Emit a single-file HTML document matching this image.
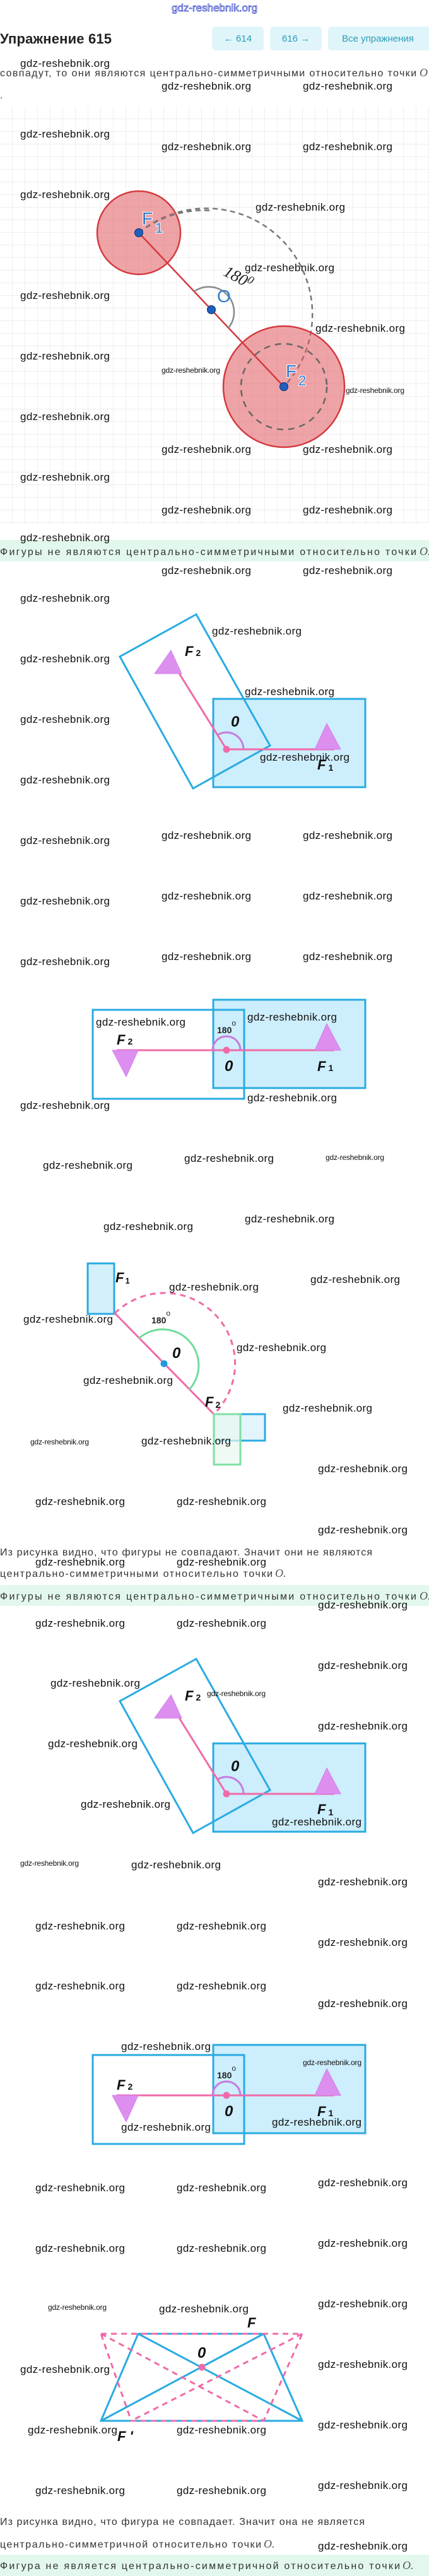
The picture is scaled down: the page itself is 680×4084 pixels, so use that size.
<!DOCTYPE html>
<html><head><meta charset="utf-8"><style>
html,body{margin:0;padding:0;background:#fff;}
svg{display:block;}
.wm{font-family:"Liberation Sans",sans-serif;font-size:17px;fill:#111;}
.ws{font-family:"Liberation Sans",sans-serif;font-size:12px;fill:#111;}
.tx{font-family:"Liberation Sans",sans-serif;font-size:16px;fill:#333;}
.oi{font-family:"Liberation Serif",serif;font-style:italic;font-size:18px;fill:#555;}
.lb{font-family:"Liberation Sans",sans-serif;font-style:italic;font-weight:bold;fill:#111;}
.bl{font-family:"Liberation Sans",sans-serif;fill:#2d7bd0;stroke:#fff;stroke-width:2px;paint-order:stroke;}
</style></head><body>
<svg width="680" height="4084" viewBox="0 0 680 4084" xmlns="http://www.w3.org/2000/svg">
<defs>
<pattern id="grid" x="0" y="169" width="20" height="20" patternUnits="userSpaceOnUse">
<path d="M20 0V20M0 20H20" fill="none" stroke="#e4e4e4" stroke-width="1.2"/>
</pattern>
</defs>

<!-- header -->
<text x="340" y="18" text-anchor="middle" font-family="Liberation Sans,sans-serif" font-size="17" fill="#fff" stroke="#3344cc" stroke-width="0.8">gdz-reshebnik.org</text>
<text x="0" y="69" font-family="Liberation Sans,sans-serif" font-weight="bold" font-size="22" fill="#222" textLength="177">Упражнение 615</text>
<rect x="336" y="42" width="82" height="38" rx="6" fill="#e0f5fa"/>
<rect x="428" y="42" width="82" height="38" rx="6" fill="#e0f5fa"/>
<rect x="520" y="42" width="166" height="38" rx="6" fill="#e0f5fa"/>
<text x="377" y="66" text-anchor="middle" font-family="Liberation Sans,DejaVu Sans,sans-serif" font-size="15" fill="#2a9bb8">←  614</text>
<text x="469" y="66" text-anchor="middle" font-family="Liberation Sans,DejaVu Sans,sans-serif" font-size="15" fill="#2a9bb8">616  →</text>
<text x="599" y="66" text-anchor="middle" font-family="Liberation Sans,sans-serif" font-size="15" fill="#2a9bb8">Все упражнения</text>

<text class="tx" x="0" y="121" textLength="660">совпадут, то они являются центрально-симметричными относительно точки</text>
<text class="oi" x="665" y="121">O</text>
<text class="tx" x="0" y="156">.</text>

<!-- section 1 grid -->
<rect x="0" y="169" width="680" height="661" fill="url(#grid)"/>
<path d="M220 369 A168 168 0 0 1 450 613" fill="none" stroke="#777" stroke-width="2.5" stroke-dasharray="8 6"/>
<circle cx="220" cy="369" r="66" fill="#e05a5f" fill-opacity="0.55" stroke="#d43a40" stroke-width="2.5"/>
<circle cx="450" cy="613" r="96" fill="#e05a5f" fill-opacity="0.55" stroke="#d43a40" stroke-width="2.5"/>
<circle cx="450" cy="613" r="68" fill="none" stroke="#666" stroke-width="2.5" stroke-dasharray="10 8"/>
<path d="M220 369 A168 168 0 0 1 337 334" fill="none" stroke="#777" stroke-width="2.5" stroke-dasharray="8 6"/>
<line x1="220" y1="369" x2="450" y2="613" stroke="#d43a40" stroke-width="2.5"/>
<path d="M308 462 A40 40 0 0 1 362 520" fill="none" stroke="#888" stroke-width="2.5"/>
<circle cx="220" cy="369" r="6.5" fill="#1f5fc0" stroke="#0c2f6a" stroke-width="1"/>
<circle cx="335" cy="491" r="6.5" fill="#1f5fc0" stroke="#0c2f6a" stroke-width="1"/>
<circle cx="450" cy="613" r="6.5" fill="#1f5fc0" stroke="#0c2f6a" stroke-width="1"/>
<text class="bl" x="225" y="356" font-size="28">F</text>
<text class="bl" x="246" y="369" font-size="22">1</text>
<text class="bl" x="453" y="598" font-size="28">F</text>
<text class="bl" x="473" y="611" font-size="22">2</text>
<text x="344" y="479" font-family="Liberation Sans,sans-serif" font-size="28" fill="#2d7bd0">O</text>
<text x="352" y="452" transform="rotate(28 385 445)" font-family="Liberation Serif,serif" font-style="italic" font-size="26" fill="#222">180<tspan font-size="18" dy="-8">0</tspan></text>

<!-- banner 1 -->
<rect x="0" y="856" width="680" height="34" fill="#e3f8ec"/>
<text class="tx" x="0" y="880" textLength="660">Фигуры не являются центрально-симметричными относительно точки</text>
<text class="oi" x="665" y="880">O.</text>

<!-- section 2 -->
<g>
<rect x="338" y="1108" width="241" height="140" fill="#cdeefc" stroke="#29abe2" stroke-width="3"/>
<polygon points="311,974 190,1041 306,1250 428,1182" fill="none" stroke="#29abe2" stroke-width="3"/>
<line x1="359" y1="1188" x2="530" y2="1188" stroke="#f06aa8" stroke-width="3"/>
<line x1="359" y1="1188" x2="283" y2="1066" stroke="#f06aa8" stroke-width="3"/>
<polygon points="518,1147 499,1188 540,1188" fill="#dd8ff0" stroke="#d27fe8" stroke-width="1"/>
<polygon points="271,1031 245,1068 288,1068" fill="#dd8ff0" stroke="#d27fe8" stroke-width="1"/>
<path d="M386 1188 A27 27 0 0 0 345 1165" fill="none" stroke="#c77be0" stroke-width="3"/>
<circle cx="359" cy="1188" r="5.5" fill="#f06aa8"/>
<text class="lb" x="293" y="1040" font-size="22">F<tspan font-size="14" font-style="normal" dx="4">2</tspan></text>
<text class="lb" x="366" y="1152" font-size="24">0</text>
<text class="lb" x="503" y="1220" font-size="22">F<tspan font-size="14" font-style="normal" dx="4" dy="2">1</tspan></text>
</g>

<!-- section 3 -->
<g>
<rect x="338" y="1585" width="241" height="140" fill="#cdeefc" stroke="#29abe2" stroke-width="3"/>
<rect x="147" y="1601" width="240" height="141" fill="none" stroke="#29abe2" stroke-width="3"/>
<line x1="185" y1="1665" x2="530" y2="1665" stroke="#f06aa8" stroke-width="3"/>
<polygon points="518,1623 499,1665 540,1665" fill="#dd8ff0" stroke="#d27fe8" stroke-width="1"/>
<polygon points="178,1665 219,1665 200,1707" fill="#dd8ff0" stroke="#d27fe8" stroke-width="1"/>
<path d="M381 1665 A22 22 0 0 0 337 1665" fill="none" stroke="#c77be0" stroke-width="3"/>
<circle cx="359" cy="1665" r="5.5" fill="#f06aa8"/>
<text x="344" y="1638" font-family="Liberation Sans,sans-serif" font-weight="bold" font-size="14" fill="#222">180<tspan font-size="12" dy="-12" font-weight="normal">o</tspan></text>
<text class="lb" x="185" y="1656" font-size="22">F<tspan font-size="14" font-style="normal" dx="4">2</tspan></text>
<text class="lb" x="356" y="1698" font-size="24">0</text>
<text class="lb" x="503" y="1698" font-size="22">F<tspan font-size="14" font-style="normal" dx="4">1</tspan></text>
</g>

<!-- section 4 -->
<g>
<rect x="139" y="2003" width="42" height="80" fill="#d4f0fb" stroke="#29abe2" stroke-width="3"/>
<path d="M182 2082 A112 112 0 0 1 339 2242" fill="none" stroke="#f06aa8" stroke-width="3" stroke-dasharray="9 7"/>
<line x1="182" y1="2082" x2="339" y2="2242" stroke="#f06aa8" stroke-width="3"/>
<path d="M220 2122 A57 57 0 0 1 300 2203" fill="none" stroke="#6fdc9a" stroke-width="3"/>
<rect x="339" y="2242" width="81" height="42" fill="#e3f4fb" stroke="#29abe2" stroke-width="3"/>
<rect x="339" y="2242" width="42" height="80" fill="#e8f8ef" fill-opacity="0.7" stroke="#7ee0a4" stroke-width="3"/>
<circle cx="260" cy="2162" r="5.5" fill="#1e9be0"/>
<text class="lb" x="183" y="2033" font-size="22">F<tspan font-size="13" font-style="normal" dx="2" dy="2">1</tspan></text>
<text x="240" y="2098" font-family="Liberation Sans,sans-serif" font-weight="bold" font-size="14" fill="#222">180<tspan font-size="12" dy="-12" font-weight="normal">o</tspan></text>
<text class="lb" x="273" y="2153" font-size="24">0</text>
<text class="lb" x="325" y="2230" font-size="22">F<tspan font-size="14" font-style="normal" dx="3" dy="2">2</tspan></text>
</g>

<text class="tx" x="0" y="2466" textLength="590">Из рисунка видно, что фигуры не совпадают. Значит они не являются</text>
<text class="tx" x="0" y="2500" textLength="432">центрально-симметричными относительно точки</text>
<text class="oi" x="436" y="2500">O.</text>
<rect x="0" y="2513" width="680" height="33" fill="#e3f8ec"/>
<text class="tx" x="0" y="2536" textLength="660">Фигуры не являются центрально-симметричными относительно точки</text>
<text class="oi" x="665" y="2536">O.</text>

<!-- section 5 -->
<g transform="translate(0,1656)">
<rect x="338" y="1108" width="241" height="140" fill="#cdeefc" stroke="#29abe2" stroke-width="3"/>
<polygon points="311,974 190,1041 306,1250 428,1182" fill="none" stroke="#29abe2" stroke-width="3"/>
<line x1="359" y1="1188" x2="530" y2="1188" stroke="#f06aa8" stroke-width="3"/>
<line x1="359" y1="1188" x2="283" y2="1066" stroke="#f06aa8" stroke-width="3"/>
<polygon points="518,1147 499,1188 540,1188" fill="#dd8ff0" stroke="#d27fe8" stroke-width="1"/>
<polygon points="271,1031 245,1068 288,1068" fill="#dd8ff0" stroke="#d27fe8" stroke-width="1"/>
<path d="M386 1188 A27 27 0 0 0 345 1165" fill="none" stroke="#c77be0" stroke-width="3"/>
<circle cx="359" cy="1188" r="5.5" fill="#f06aa8"/>
<text class="lb" x="293" y="1040" font-size="22">F<tspan font-size="14" font-style="normal" dx="4">2</tspan></text>
<text class="lb" x="366" y="1152" font-size="24">0</text>
<text class="lb" x="503" y="1220" font-size="22">F<tspan font-size="14" font-style="normal" dx="4" dy="2">1</tspan></text>
</g>

<!-- section 6 -->
<g transform="translate(0,1657)">
<rect x="338" y="1585" width="241" height="140" fill="#cdeefc" stroke="#29abe2" stroke-width="3"/>
<rect x="147" y="1601" width="240" height="141" fill="none" stroke="#29abe2" stroke-width="3"/>
<line x1="185" y1="1665" x2="530" y2="1665" stroke="#f06aa8" stroke-width="3"/>
<polygon points="518,1623 499,1665 540,1665" fill="#dd8ff0" stroke="#d27fe8" stroke-width="1"/>
<polygon points="178,1665 219,1665 200,1707" fill="#dd8ff0" stroke="#d27fe8" stroke-width="1"/>
<path d="M381 1665 A22 22 0 0 0 337 1665" fill="none" stroke="#c77be0" stroke-width="3"/>
<circle cx="359" cy="1665" r="5.5" fill="#f06aa8"/>
<text x="344" y="1638" font-family="Liberation Sans,sans-serif" font-weight="bold" font-size="14" fill="#222">180<tspan font-size="12" dy="-12" font-weight="normal">o</tspan></text>
<text class="lb" x="185" y="1656" font-size="22">F<tspan font-size="14" font-style="normal" dx="4">2</tspan></text>
<text class="lb" x="356" y="1698" font-size="24">0</text>
<text class="lb" x="503" y="1698" font-size="22">F<tspan font-size="14" font-style="normal" dx="4">1</tspan></text>
</g>

<!-- section 7 trapezoid -->
<g fill="none">
<polygon points="219,3700 418,3700 479,3838 160,3838" stroke="#29abe2" stroke-width="3"/>
<line x1="219" y1="3700" x2="479" y2="3838" stroke="#29abe2" stroke-width="3"/>
<line x1="418" y1="3700" x2="160" y2="3838" stroke="#29abe2" stroke-width="3"/>
<polygon points="160,3700 479,3700 418,3838 208,3838" stroke="#f06aa8" stroke-width="3" stroke-dasharray="9 7"/>
<line x1="160" y1="3700" x2="418" y2="3838" stroke="#f06aa8" stroke-width="3" stroke-dasharray="9 7"/>
<line x1="479" y1="3700" x2="208" y2="3838" stroke="#f06aa8" stroke-width="3" stroke-dasharray="9 7"/>
</g>
<circle cx="320" cy="3753" r="5.5" fill="#f06aa8"/>
<text class="lb" x="392" y="3690" font-size="22">F</text>
<text class="lb" x="313" y="3738" font-size="24">0</text>
<text class="lb" x="186" y="3870" font-size="22">F '</text>

<text class="tx" x="0" y="4003" textLength="578">Из рисунка видно, что фигура не совпадает. Значит она не является</text>
<text class="tx" x="0" y="4039" textLength="414">центрально-симметричной относительно точки</text>
<text class="oi" x="418" y="4039">O.</text>
<rect x="0" y="4050" width="680" height="34" fill="#e3f8ec"/>
<text class="tx" x="0" y="4073" textLength="634">Фигура не является центрально-симметричной относительно точки</text>
<text class="oi" x="638" y="4073">O.</text>

<!-- watermarks (big) -->
<g class="wm">
<text x="32" y="106" textLength="142">gdz-reshebnik.org</text>
<text x="256" y="142" textLength="142">gdz-reshebnik.org</text>
<text x="480" y="142" textLength="142">gdz-reshebnik.org</text>
<text x="32" y="218" textLength="142">gdz-reshebnik.org</text>
<text x="256" y="238" textLength="142">gdz-reshebnik.org</text>
<text x="480" y="238" textLength="142">gdz-reshebnik.org</text>
<text x="32" y="314" textLength="142">gdz-reshebnik.org</text>
<text x="405" y="334" textLength="142">gdz-reshebnik.org</text>
<text x="388" y="430" textLength="142">gdz-reshebnik.org</text>
<text x="32" y="474" textLength="142">gdz-reshebnik.org</text>
<text x="500" y="526" textLength="142">gdz-reshebnik.org</text>
<text x="32" y="570" textLength="142">gdz-reshebnik.org</text>
<text x="32" y="666" textLength="142">gdz-reshebnik.org</text>
<text x="256" y="718" textLength="142">gdz-reshebnik.org</text>
<text x="480" y="718" textLength="142">gdz-reshebnik.org</text>
<text x="32" y="762" textLength="142">gdz-reshebnik.org</text>
<text x="256" y="814" textLength="142">gdz-reshebnik.org</text>
<text x="480" y="814" textLength="142">gdz-reshebnik.org</text>
<text x="32" y="858" textLength="142">gdz-reshebnik.org</text>
<text x="256" y="910" textLength="142">gdz-reshebnik.org</text>
<text x="480" y="910" textLength="142">gdz-reshebnik.org</text>
<text x="32" y="954" textLength="142">gdz-reshebnik.org</text>
<text x="336" y="1006" textLength="142">gdz-reshebnik.org</text>
<text x="32" y="1050" textLength="142">gdz-reshebnik.org</text>
<text x="388" y="1102" textLength="142">gdz-reshebnik.org</text>
<text x="32" y="1146" textLength="142">gdz-reshebnik.org</text>
<text x="412" y="1206" textLength="142">gdz-reshebnik.org</text>
<text x="32" y="1242" textLength="142">gdz-reshebnik.org</text>
<text x="256" y="1330" textLength="142">gdz-reshebnik.org</text>
<text x="480" y="1330" textLength="142">gdz-reshebnik.org</text>
<text x="32" y="1338" textLength="142">gdz-reshebnik.org</text>
<text x="256" y="1426" textLength="142">gdz-reshebnik.org</text>
<text x="480" y="1426" textLength="142">gdz-reshebnik.org</text>
<text x="32" y="1434" textLength="142">gdz-reshebnik.org</text>
<text x="32" y="1530" textLength="142">gdz-reshebnik.org</text>
<text x="256" y="1522" textLength="142">gdz-reshebnik.org</text>
<text x="480" y="1522" textLength="142">gdz-reshebnik.org</text>
<text x="152" y="1626" textLength="142">gdz-reshebnik.org</text>
<text x="392" y="1618" textLength="142">gdz-reshebnik.org</text>
<text x="392" y="1746" textLength="142">gdz-reshebnik.org</text>
<text x="32" y="1758" textLength="142">gdz-reshebnik.org</text>
<text x="68" y="1853" textLength="142">gdz-reshebnik.org</text>
<text x="292" y="1842" textLength="142">gdz-reshebnik.org</text>
<text x="164" y="1950" textLength="142">gdz-reshebnik.org</text>
<text x="388" y="1938" textLength="142">gdz-reshebnik.org</text>
<text x="492" y="2034" textLength="142">gdz-reshebnik.org</text>
<text x="268" y="2046" textLength="142">gdz-reshebnik.org</text>
<text x="37" y="2097" textLength="142">gdz-reshebnik.org</text>
<text x="375" y="2142" textLength="142">gdz-reshebnik.org</text>
<text x="132" y="2194" textLength="142">gdz-reshebnik.org</text>
<text x="448" y="2238" textLength="142">gdz-reshebnik.org</text>
<text x="224" y="2290" textLength="142">gdz-reshebnik.org</text>
<text x="504" y="2334" textLength="142">gdz-reshebnik.org</text>
<text x="56" y="2386" textLength="142">gdz-reshebnik.org</text>
<text x="280" y="2386" textLength="142">gdz-reshebnik.org</text>
<text x="504" y="2431" textLength="142">gdz-reshebnik.org</text>
<text x="56" y="2482" textLength="142">gdz-reshebnik.org</text>
<text x="280" y="2482" textLength="142">gdz-reshebnik.org</text>
<text x="504" y="2550" textLength="142">gdz-reshebnik.org</text>
<text x="56" y="2579" textLength="142">gdz-reshebnik.org</text>
<text x="280" y="2579" textLength="142">gdz-reshebnik.org</text>
<text x="504" y="2646" textLength="142">gdz-reshebnik.org</text>
<text x="80" y="2674" textLength="142">gdz-reshebnik.org</text>
<text x="504" y="2742" textLength="142">gdz-reshebnik.org</text>
<text x="76" y="2770" textLength="142">gdz-reshebnik.org</text>
<text x="128" y="2866" textLength="142">gdz-reshebnik.org</text>
<text x="431" y="2894" textLength="142">gdz-reshebnik.org</text>
<text x="208" y="2962" textLength="142">gdz-reshebnik.org</text>
<text x="504" y="2989" textLength="142">gdz-reshebnik.org</text>
<text x="56" y="3059" textLength="142">gdz-reshebnik.org</text>
<text x="280" y="3059" textLength="142">gdz-reshebnik.org</text>
<text x="504" y="3085" textLength="142">gdz-reshebnik.org</text>
<text x="56" y="3154" textLength="142">gdz-reshebnik.org</text>
<text x="280" y="3154" textLength="142">gdz-reshebnik.org</text>
<text x="504" y="3182" textLength="142">gdz-reshebnik.org</text>
<text x="192" y="3250" textLength="142">gdz-reshebnik.org</text>
<text x="192" y="3378" textLength="142">gdz-reshebnik.org</text>
<text x="431" y="3370" textLength="142">gdz-reshebnik.org</text>
<text x="56" y="3474" textLength="142">gdz-reshebnik.org</text>
<text x="280" y="3474" textLength="142">gdz-reshebnik.org</text>
<text x="504" y="3466" textLength="142">gdz-reshebnik.org</text>
<text x="56" y="3570" textLength="142">gdz-reshebnik.org</text>
<text x="280" y="3570" textLength="142">gdz-reshebnik.org</text>
<text x="504" y="3562" textLength="142">gdz-reshebnik.org</text>
<text x="252" y="3666" textLength="142">gdz-reshebnik.org</text>
<text x="504" y="3658" textLength="142">gdz-reshebnik.org</text>
<text x="32" y="3762" textLength="142">gdz-reshebnik.org</text>
<text x="504" y="3754" textLength="142">gdz-reshebnik.org</text>
<text x="44" y="3858" textLength="142">gdz-reshebnik.org</text>
<text x="280" y="3858" textLength="142">gdz-reshebnik.org</text>
<text x="504" y="3850" textLength="142">gdz-reshebnik.org</text>
<text x="56" y="3954" textLength="142">gdz-reshebnik.org</text>
<text x="280" y="3954" textLength="142">gdz-reshebnik.org</text>
<text x="504" y="3946" textLength="142">gdz-reshebnik.org</text>
<text x="504" y="4042" textLength="142">gdz-reshebnik.org</text>
</g>
<!-- small watermarks -->
<g class="ws">
<text x="256" y="591" textLength="93">gdz-reshebnik.org</text>
<text x="548" y="623" textLength="93">gdz-reshebnik.org</text>
<text x="516" y="1839" textLength="93">gdz-reshebnik.org</text>
<text x="48" y="2290" textLength="93">gdz-reshebnik.org</text>
<text x="328" y="2689" textLength="93">gdz-reshebnik.org</text>
<text x="32" y="2958" textLength="93">gdz-reshebnik.org</text>
<text x="480" y="3274" textLength="93">gdz-reshebnik.org</text>
<text x="76" y="3662" textLength="93">gdz-reshebnik.org</text>
</g>
</svg>
</body></html>
